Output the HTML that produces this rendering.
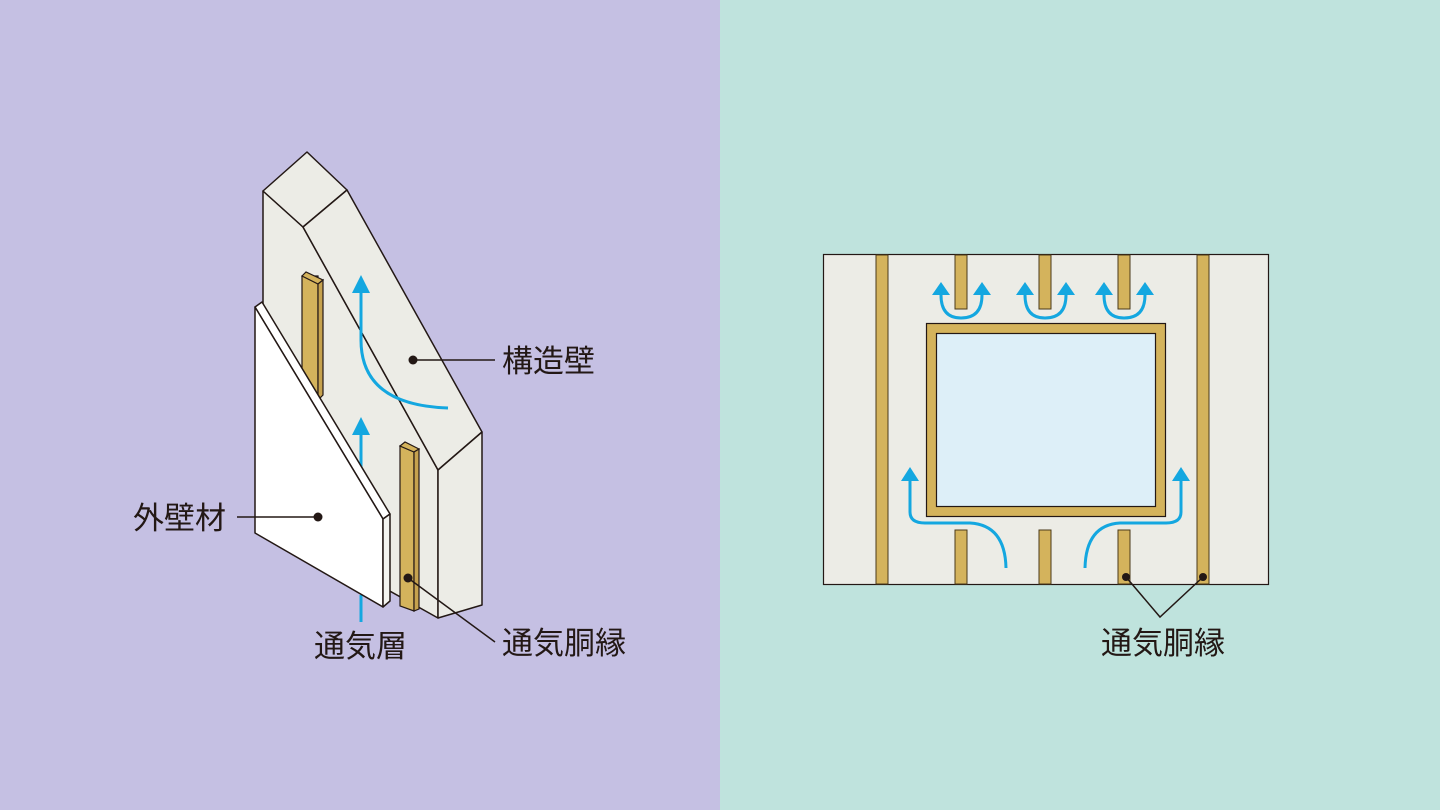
<!DOCTYPE html>
<html><head><meta charset="utf-8"><style>
html,body{margin:0;padding:0;background:#c5c0e3;}
body{width:1440px;height:810px;overflow:hidden;font-family:"Liberation Sans","Noto Sans CJK JP",sans-serif;}
svg{display:block;}
</style></head><body>
<svg width="1440" height="810" viewBox="0 0 1440 810" xmlns="http://www.w3.org/2000/svg">
<rect x="0" y="0" width="720" height="810" fill="#c5c0e3"/>
<rect x="720" y="0" width="720" height="810" fill="#bfe3dd"/>
<g stroke="#231815" stroke-width="1.5" stroke-linejoin="round" fill="#ecece6">
<polygon points="263,191 303,227 438,470 438,618 263,520"/>
<polygon points="263,191 307,152 347,190 303,227"/>
<polygon points="303,227 347,190 482,432 438,470"/>
<polygon points="438,470 482,432 482,605 438,618"/>
</g>
<polygon points="302,276 318,276 318,400 302,400" fill="#d4b35c" stroke="#231815" stroke-width="1.2"/>
<polygon points="302,276 306,272 323,280 318,284" fill="#d4b35c" stroke="#231815" stroke-width="1.2"/>
<polygon points="318,284 323,280 323,395 318,400" fill="#c6a24e" stroke="#231815" stroke-width="1.2"/>
<polygon points="400,446 414,452 414,611 400,606" fill="#d4b35c" stroke="#231815" stroke-width="1.2"/>
<polygon points="400,446 405,442 419,449 414,452" fill="#d4b35c" stroke="#231815" stroke-width="1.2"/>
<polygon points="414,452 419,449 419,609 414,611" fill="#c6a24e" stroke="#231815" stroke-width="1.2"/>
<g stroke="#14a7e0" stroke-width="3" fill="none">
<path d="M361,292 V340 Q361,405 448,408"/>
<path d="M361,432 V470"/>
<path d="M361,595 V622"/>
</g>
<polygon points="352,293 370,293 361,275" fill="#14a7e0"/>
<polygon points="352,435 370,435 361,417" fill="#14a7e0"/>
<g stroke="#231815" stroke-width="1.5" stroke-linejoin="round">
<polygon points="255,307 262,302 390,514 383,519" fill="#ffffff"/>
<polygon points="255,307 383,519 383,607 255,533" fill="#ffffff"/>
<polygon points="383,519 390,514 390,601 383,607" fill="#f4f4f0"/>
</g>
<g stroke="#231815" stroke-width="1.5" fill="none">
<line x1="413" y1="360" x2="495" y2="360"/>
<line x1="237" y1="517" x2="318" y2="517"/>
<line x1="408" y1="578" x2="495" y2="642"/>
</g>
<g fill="#231815">
<circle cx="413" cy="360" r="4.5"/>
<circle cx="318" cy="517" r="4.5"/>
<circle cx="408" cy="578" r="4.5"/>
</g>
<g font-family="'Liberation Sans','Noto Sans CJK JP',sans-serif" font-size="31" fill="#231815">
<text x="502" y="372">構造壁</text>
<text x="133" y="529">外壁材</text>
<text x="314" y="657">通気層</text>
<text x="502" y="654">通気胴縁</text>
<text x="1101" y="654">通気胴縁</text>
</g>
<rect x="823.5" y="254.5" width="445" height="330" fill="#ecece6" stroke="#231815" stroke-width="1.2"/>
<g fill="#d4b35c" stroke="#4a3a1a" stroke-width="1">
<rect x="876" y="255" width="12" height="329"/>
<rect x="1197" y="255" width="12" height="329"/>
<rect x="955" y="255" width="12" height="54"/>
<rect x="1039" y="255" width="12" height="54"/>
<rect x="1118" y="255" width="12" height="54"/>
<rect x="955" y="530" width="12" height="54"/>
<rect x="1039" y="530" width="12" height="54"/>
<rect x="1118" y="530" width="12" height="54"/>
</g>
<rect x="926.5" y="323.5" width="239" height="193" fill="#d4b35c" stroke="#231815" stroke-width="1.2"/>
<rect x="936.5" y="333.5" width="219" height="173" fill="#ddeff8" stroke="#231815" stroke-width="1.2"/>
<g stroke="#14a7e0" stroke-width="3" fill="none">
<path d="M941,295 Q941,318 961,318 Q982,318 982,295"/>
<path d="M1025,295 Q1025,318 1045,318 Q1066,318 1066,295"/>
<path d="M1104,295 Q1104,318 1124,318 Q1145,318 1145,295"/>
<path d="M910,480 V512 Q910,523 925,523 L970,523 Q1005,525 1006,568"/>
<path d="M1181,480 V512 Q1181,523 1166,523 L1120,523 Q1086,525 1085,568"/>
</g>
<g fill="#14a7e0">
<polygon points="932,295 950,295 941,282"/>
<polygon points="973,295 991,295 982,282"/>
<polygon points="1016,295 1034,295 1025,282"/>
<polygon points="1057,295 1075,295 1066,282"/>
<polygon points="1095,295 1113,295 1104,282"/>
<polygon points="1136,295 1154,295 1145,282"/>
<polygon points="901,481 919,481 910,467"/>
<polygon points="1172,481 1190,481 1181,467"/>
</g>
<polyline points="1126,577 1160,617 1203,577" stroke="#231815" stroke-width="1.5" fill="none"/>
<circle cx="1126" cy="577" r="4" fill="#231815"/>
<circle cx="1203" cy="577" r="4" fill="#231815"/>
</svg>
</body></html>
